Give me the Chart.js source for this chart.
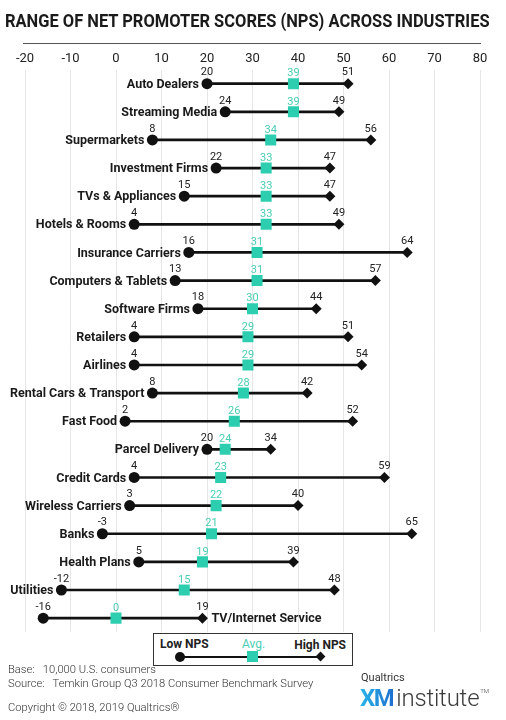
<!DOCTYPE html>
<html>
<head>
<meta charset="utf-8">
<script src="https://cdn.jsdelivr.net/npm/chart.js@4.4.1/dist/chart.umd.min.js"></script>
<style>
  html, body { margin: 0; padding: 0; background: #fff; }
  body { width: 506px; height: 720px; position: relative; overflow: hidden; font-family: Roboto, "Noto Sans", sans-serif; color: #222; }
  #wrap { position: absolute; left: 0; top: 0; width: 506px; height: 640px; }
  #title { position: absolute; left: 5px; top: 10px; font-size: 18px; font-weight: 700; white-space: nowrap; transform-origin: 0 0; color: #1a1a1a; }
  #rule { position: absolute; left: 23px; top: 43px; width: 458px; height: 0; border-top: 1.5px solid #555; }
  #legend { position: absolute; left: 153px; top: 633px; width: 198px; height: 31px; border: 1.5px solid #333; background: #fff; }
  #legend .t { position: absolute; font-size: 12px; font-weight: 700; white-space: nowrap; }
  #legend .ln { position: absolute; left: 26px; top: 22px; width: 140px; border-top: 2px solid #111; }
  #legend .c { position: absolute; left: 21px; top: 18px; width: 10px; height: 10px; border-radius: 50%; background: #111; }
  #legend .s { position: absolute; left: 93px; top: 17px; width: 11px; height: 11px; background: #2dcdb0; }
  #legend .d { position: absolute; left: 163px; top: 19px; width: 7px; height: 7px; background: #111; transform: rotate(45deg); }
  .foot { position: absolute; left: 8px; font-size: 11.2px; font-weight: 300; color: #333; white-space: pre; }
  #logo1 { position: absolute; left: 361px; top: 671px; font-size: 11px; color: #333; }
  #logo2 { position: absolute; left: 360px; top: 684px; font-size: 24px; white-space: nowrap; color: #3a3a3a; font-weight: 300; letter-spacing: -0.2px; }
  #logo2 b { font-weight: 700; letter-spacing: -1.5px; margin-right: 3px;
    background: linear-gradient(90deg, #27b6e8, #1f6fcf); -webkit-background-clip: text; background-clip: text; color: transparent; }
  #logo2 sup { font-size: 6px; vertical-align: 13px; margin-left: 1px; }
</style>
</head>
<body>
<div id="wrap"><canvas id="npsChart"></canvas></div>
<div id="title">RANGE OF NET PROMOTER SCORES (NPS) ACROSS INDUSTRIES</div>
<div id="rule"></div>
<div id="legend">
  <div class="t" style="left:6px; top:3px;">Low NPS</div>
  <div class="t" style="left:88px; top:3px; color:#49cdb5; font-weight:400;">Avg.</div>
  <div class="t" style="right:6px; top:4px;">High NPS</div>
  <div class="ln"></div><div class="c"></div><div class="s"></div><div class="d"></div>
</div>
<div class="foot" style="top:663px;">Base:   10,000 U.S. consumers</div>
<div class="foot" style="top:677px;">Source:   Temkin Group Q3 2018 Consumer Benchmark Survey</div>
<div class="foot" style="top:701px;">Copyright © 2018, 2019 Qualtrics®</div>
<div id="logo1">Qualtrics</div>
<div id="logo2"><b>XM</b>institute<sup>TM</sup></div>

<script>
// 数据
const industries = [
  'Auto Dealers', 'Streaming Media', 'Supermarkets', 'Investment Firms', 'TVs & Appliances',
  'Hotels & Rooms', 'Insurance Carriers', 'Computers & Tablets', 'Software Firms', 'Retailers',
  'Airlines', 'Rental Cars & Transport', 'Fast Food', 'Parcel Delivery', 'Credit Cards',
  'Wireless Carriers', 'Banks', 'Health Plans', 'Utilities', 'TV/Internet Service'
];
const lowNps  = [20, 24, 8, 22, 15, 4, 16, 13, 18, 4, 4, 8, 2, 20, 4, 3, -3, 5, -12, -16];
const avgNps  = [39, 39, 34, 33, 33, 33, 31, 31, 30, 29, 29, 28, 26, 24, 23, 22, 21, 19, 15, 0];
const highNps = [51, 49, 56, 47, 47, 49, 64, 57, 44, 51, 54, 42, 52, 34, 59, 40, 65, 39, 48, 19];
const xTicks  = [-20, -10, 0, 10, 20, 30, 40, 50, 60, 70, 80];

const TEAL = '#2dcdb0';
const TEAL_TEXT = '#49cdb5';
const INK = '#111';

// 标题宽度适配
const titleEl = document.getElementById('title');
titleEl.style.transform = 'scaleX(' + (485 / titleEl.offsetWidth) + ')';

// 文字标签插件
const rowLabels = {
  id: 'rowLabels',
  afterDatasetsDraw(chart) {
    const ctx = chart.ctx;
    const avgMeta = chart.getDatasetMeta(0);
    const lowMeta = chart.getDatasetMeta(1);
    const highMeta = chart.getDatasetMeta(2);
    ctx.save();
    ctx.textBaseline = 'middle';
    industries.forEach((name, i) => {
      const lo = lowMeta.data[i], av = avgMeta.data[i], hi = highMeta.data[i];
      ctx.font = '11px Roboto';
      ctx.fillStyle = '#222';
      ctx.textAlign = 'center';
      ctx.fillText(String(lowNps[i]), lo.x, lo.y - 11);
      ctx.fillText(String(highNps[i]), hi.x, hi.y - 11);
      ctx.fillStyle = TEAL_TEXT;
      ctx.fillText(String(avgNps[i]), av.x, av.y - 10);

      ctx.font = 'bold 12.5px Roboto';
      ctx.fillStyle = '#1a1a1a';
      if (i === industries.length - 1) {
        ctx.textAlign = 'left';
        ctx.fillText(name, hi.x + 9, hi.y + 1);
      } else {
        ctx.textAlign = 'right';
        ctx.fillText(name, lo.x - 8, lo.y + 1);
      }
    });
    ctx.restore();
  }
};

new Chart(document.getElementById('npsChart'), {
  type: 'bar',
  data: {
    labels: industries,
    datasets: [
      { type: 'line', label: 'Avg.', data: avgNps, showLine: false, indexAxis: 'y',
        pointStyle: 'rect', pointRadius: 7.8, pointBackgroundColor: TEAL, pointBorderWidth: 0 },
      { type: 'line', label: 'Low NPS', data: lowNps, showLine: false, indexAxis: 'y',
        pointStyle: 'circle', pointRadius: 5.5, pointBackgroundColor: INK, pointBorderWidth: 0 },
      { type: 'line', label: 'High NPS', data: highNps, showLine: false, indexAxis: 'y',
        pointStyle: 'rectRot', pointRadius: 5.5, pointBackgroundColor: INK, pointBorderWidth: 0 },
      { type: 'bar', label: 'Range', data: industries.map((_, i) => [lowNps[i], highNps[i]]),
        backgroundColor: INK, barThickness: 2 }
    ]
  },
  options: {
    indexAxis: 'y',
    responsive: true,
    maintainAspectRatio: false,
    animation: false,
    layout: { padding: { left: 25, right: 26, top: 48, bottom: 5 } },
    plugins: { legend: { display: false }, tooltip: { enabled: false } },
    scales: {
      x: {
        type: 'linear', position: 'top', min: -20, max: 80,
        afterBuildTicks: (axis) => { axis.ticks = xTicks.map(v => ({ value: v })); },
        ticks: { font: { family: 'Roboto', size: 13 }, color: '#222', padding: 3 },
        grid: { color: '#e6e6e6', lineWidth: 1, drawTicks: false },
        border: { display: false }
      },
      y: { display: false, offset: true }
    }
  },
  plugins: [rowLabels]
});
</script>
</body>
</html>
